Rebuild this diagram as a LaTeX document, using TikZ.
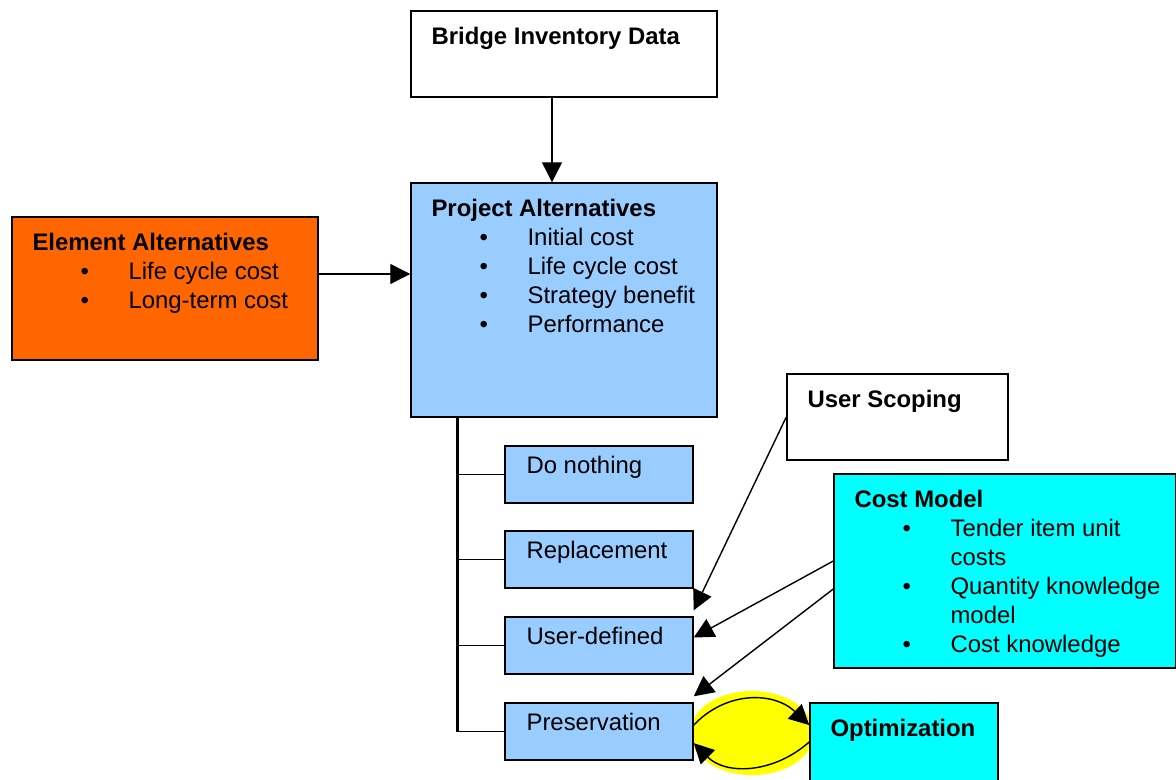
\documentclass[tikz,border=0pt]{standalone}
\usepackage{fontspec}
\setmainfont{Liberation Sans}
\usetikzlibrary{arrows.meta}
\definecolor{projblue}{HTML}{99ccff}
\definecolor{elemorange}{HTML}{ff6600}
\definecolor{costcyan}{HTML}{00ffff}
\definecolor{optyellow}{HTML}{ffff00}
\newcommand{\bitem}[1]{\makebox[2.4cm][l]{\hspace{1.2cm}\textbullet}#1}

\begin{document}
\begin{tikzpicture}[
    x=0.025cm, y=-0.025cm,
    font=\fontsize{17}{20.6}\selectfont,
    box/.style={rectangle, draw=black, line width=1pt, inner sep=0pt},
    mainbox/.style={box, minimum width=7.65cm},
    altbox/.style={box, fill=projblue, minimum width=4.7cm, minimum height=1.425cm},
    title/.style={anchor=north west, inner sep=0pt, align=left, xshift=0.525cm, yshift=-0.425cm},
    alttitle/.style={anchor=north west, inner sep=0pt, align=left, xshift=0.55cm, yshift=-0.275cm},
    fl/.style={-{Triangle[length=5mm, width=5mm]}, line width=1pt},
    spine/.style={line width=2.5pt},
    branch/.style={line width=1pt}
  ]
  \useasboundingbox (0,0) rectangle (1176,779);
  \clip (0,0) rectangle (1176,779);

  % yellow loop behind preservation / optimization
  \fill[optyellow] (752,733) ellipse [x radius=1.55cm, y radius=1.05cm];

  \node[mainbox, fill=white, minimum height=2.15cm,
    label={[title]north west:{\textbf{Bridge Inventory Data}}}] (bridge) at (564,54) {};
  \node[mainbox, fill=projblue, minimum height=5.85cm,
    label={[title]north west:{\textbf{Project Alternatives}\\
      \bitem{Initial cost}\\ \bitem{Life cycle cost}\\
      \bitem{Strategy benefit}\\ \bitem{Performance}}}] (proj) at (564,300) {};
  \node[mainbox, fill=elemorange, minimum height=3.575cm,
    label={[title]north west:{\textbf{Element Alternatives}\\
      \bitem{Life cycle cost}\\ \bitem{Long-term cost}}}] (elem) at (165,288.5) {};

  \node[altbox, label={[alttitle]north west:{Do nothing}}]   (donothing) at (599,474.5) {};
  \node[altbox, label={[alttitle]north west:{Replacement}}]  (replace)   at (599,559.5) {};
  \node[altbox, label={[alttitle]north west:{User-defined}}] (userdef)   at (599,645.5) {};
  \node[altbox, label={[alttitle]north west:{Preservation}}] (preserv)   at (599,731.5) {};

  \node[box, fill=white, minimum width=5.525cm, minimum height=2.15cm,
    label={[title]north west:{\textbf{User Scoping}}}] (scoping) at (897.5,417) {};
  \node[box, fill=costcyan, minimum width=8.55cm, minimum height=4.85cm,
    label={[title]north west:{\textbf{Cost Model}\\
      \bitem{Tender item unit}\\ \hspace*{2.4cm}costs\\
      \bitem{Quantity knowledge}\\ \hspace*{2.4cm}model\\
      \bitem{Cost knowledge}}}] (cost) at (1005,571) {};
  \node[box, fill=costcyan, minimum width=4.7cm, minimum height=2.425cm,
    label={[title]north west:{\textbf{Optimization}}}] (optim) at (904,751.5) {};

  \draw[fl] ([xshift=-0.3cm]bridge.south) -- ([xshift=-0.3cm]proj.north);
  \draw[fl] ([yshift=0.3625cm]elem.east) -- ([yshift=0.3625cm]elem.east -| proj.west);

  \coordinate (sp) at ([xshift=1.175cm]proj.south west);
  \draw[spine] (sp) -- (sp |- preserv.west);
  \foreach \alt in {donothing, replace, userdef, preserv}
    \draw[branch] (sp |- \alt.west) -- (\alt.west);

  \draw[fl] (scoping.west) -- ([yshift=0.15cm]userdef.north east);
  \draw[fl] ([yshift=0.25cm]cost.west) -- ([yshift=0.2cm]userdef.east);
  \draw[fl] ([yshift=-0.45cm]cost.west) -- ([yshift=0.15cm]preserv.north east);

  \draw[fl] ([yshift=0.16cm]preserv.east) .. controls +(0.8cm,0.85cm) and +(-0.9cm,0.85cm) .. ([yshift=0.66cm]optim.west);
  \draw[fl] ([yshift=0.24cm]optim.west) .. controls +(-0.9cm,-0.8cm) and +(0.8cm,-0.8cm) .. ([yshift=-0.29cm]preserv.east);
\end{tikzpicture}
\end{document}
